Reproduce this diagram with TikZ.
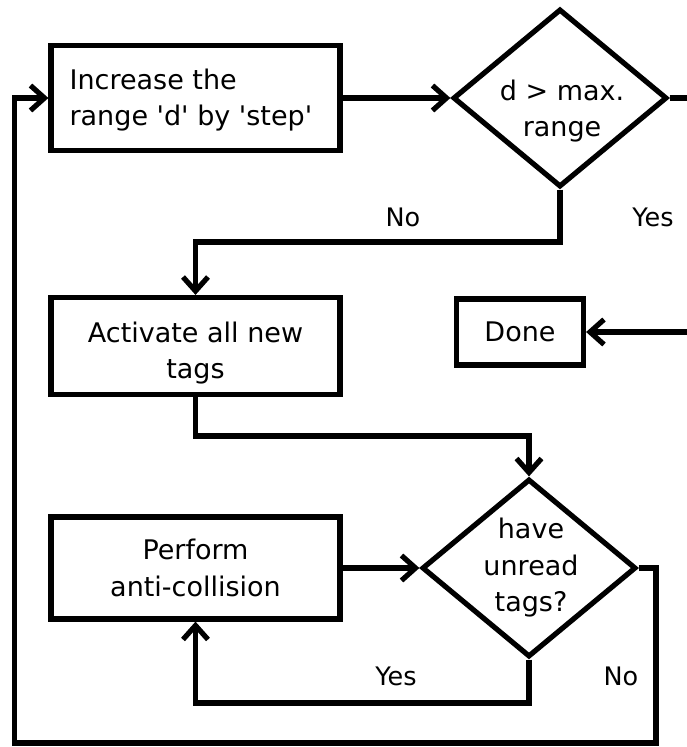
\documentclass[tikz,border=0pt]{standalone}
\usepackage{fontspec}
\setmainfont{DejaVu Sans}
\usetikzlibrary{shapes.geometric,arrows.meta}
\begin{document}
\begin{tikzpicture}[x=1pt,y=-1pt,
  line width=5.2pt,
  every node/.style={font=\fontsize{27}{36.5}\selectfont},
  procbox/.style={draw,rectangle,inner sep=0pt,minimum width=289pt,align=center},
  decision/.style={draw,diamond,inner sep=0pt,minimum width=214pt,minimum height=178pt,align=center},
  txt/.style={inner sep=0pt,align=center},
  flow/.style={-{Straight Barb[length=14pt,width=25pt]},line join=miter},
  lbl/.style={font=\fontsize{25.5}{30}\selectfont,inner sep=0pt}]
\useasboundingbox (0,0) rectangle (687,747);
\clip (0,0) rectangle (687,747);

% process steps
\node[procbox,minimum height=105pt] (inc) at (195.5,98) {};
\node[txt,align=left,anchor=west] (incText) at (67,100)
  {Increase the\\range \textquotesingle d\textquotesingle\ by \textquotesingle step\textquotesingle};
\node[procbox,minimum height=97pt] (act) at (195.5,346) {};
\node[txt] (actText) at (195.5,353) {Activate all new\\tags};
\node[procbox,minimum height=102pt] (anti) at (195.5,568) {Perform\\anti-collision};
\node[draw,rectangle,inner sep=0pt,minimum width=127pt,minimum height=66pt] (done) at (520,332) {Done};

% decisions
\node[decision] (maxr) at (560,98) {};
\node[txt] (maxrText) at (562,111) {d > max.\\range};
\node[decision] (unread) at (529,568) {};
\node[txt] (unreadText) at (531,568) {have\\unread\\tags?};

% bend points
\coordinate (edgeA) at (700,98);
\coordinate (noA) at (560,242);
\coordinate (actA) at (195.5,436);
\coordinate (yesA) at (529,703);
\coordinate (loopA) at (656,568);
\coordinate (loopB) at (14.5,743);

% connectors
\draw[flow] (inc.east) -- (maxr.west);
\draw[flow] (maxr.east) -- (edgeA) |- (done.east);
\draw[flow] (maxr.south) -- (noA) -| (act.north);
\draw[flow] (act.south) -- (actA) -| (unread.north);
\draw[flow] (anti.east) -- (unread.west);
\draw[flow] (unread.south) -- (yesA) -| (anti.south);
\draw[flow] (unread.east) -- (loopA) |- (loopB) |- (inc.west);

% branch labels
\node[lbl] (noTop) at (403,217) {No};
\node[lbl] (yesTop) at (653,217) {Yes};
\node[lbl] (yesBot) at (396,676) {Yes};
\node[lbl] (noBot) at (621,676) {No};
\end{tikzpicture}
\end{document}
